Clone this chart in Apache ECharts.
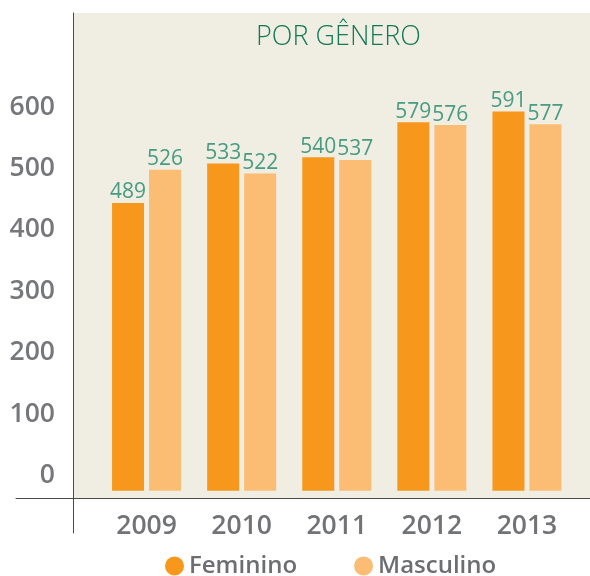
<!DOCTYPE html>
<html>
<head>
<meta charset="utf-8">
<script src="https://cdn.jsdelivr.net/npm/echarts@6/dist/echarts.min.js"></script>
<style>html,body{margin:0;padding:0;background:#fff;}#c{width:590px;height:576px;}</style>
</head>
<body>
<div id="c"></div>
<script>
const years = ['2009', '2010', '2011', '2012', '2013'];
const feminino = [489, 533, 540, 579, 591];
const masculino = [526, 522, 537, 576, 577];
const tickMin = 0, tickMax = 600, tickStep = 100;
const title = 'POR GÊNERO';
const seriesNames = ['Feminino', 'Masculino'];

const chart = echarts.init(document.getElementById('c'), null, {renderer: 'canvas'});
const labelStyle = {
  show: true, position: 'top', distance: 0,
  fontFamily: 'Open Sans', fontWeight: 500, fontSize: 21, color: '#479c82'
};
chart.setOption({
  animation: false,
  backgroundColor: '#ffffff',
  title: {
    text: title, left: 251, top: 19,
    textStyle: {fontFamily: 'Open Sans', fontWeight: 300, fontSize: 27, color: '#127a56'}
  },
  legend: {
    data: seriesNames, icon: 'circle', itemWidth: 19, itemHeight: 19, itemGap: 57,
    left: 160, top: 549,
    textStyle: {fontFamily: 'Open Sans', fontWeight: 600, fontSize: 24, color: '#6d6e71'}
  },
  grid: [
    {left: 73, right: 0, top: 13, bottom: 78, show: true, backgroundColor: '#F0EDE3', borderWidth: 0},
    {left: 16, right: 0, top: 13, bottom: 78},
    {left: 73, width: 10, top: 13, bottom: 43},
    {left: 99, right: 15.5, top: 13, bottom: 85.3},
    {left: 73, right: 0, top: 107, bottom: 100.5}
  ],
  xAxis: [
    {gridIndex: 0, type: 'value', show: false},
    {gridIndex: 1, type: 'value', axisLine: {show: true, lineStyle: {color: '#4a4a4a', width: 1}},
     axisLabel: {show: false}, axisTick: {show: false}, splitLine: {show: false}},
    {gridIndex: 2, type: 'value', show: false},
    {gridIndex: 3, type: 'category', data: years,
     axisLine: {show: false}, axisTick: {show: false},
     axisLabel: {margin: 22, fontFamily: 'Open Sans', fontWeight: 600, fontSize: 26.5, color: '#727376'}},
    {gridIndex: 4, type: 'value', show: false}
  ],
  yAxis: [
    {gridIndex: 0, type: 'value', show: false},
    {gridIndex: 1, type: 'value', show: false},
    {gridIndex: 2, type: 'value', axisLine: {show: true, lineStyle: {color: '#4a4a4a', width: 1}},
     axisLabel: {show: false}, axisTick: {show: false}, splitLine: {show: false}},
    {gridIndex: 3, type: 'value', min: 168, max: 701, show: false},
    {gridIndex: 4, type: 'value', min: tickMin, max: tickMax, interval: tickStep,
     axisLine: {show: false}, axisTick: {show: false}, splitLine: {show: false},
     axisLabel: {margin: 18, fontFamily: 'Open Sans', fontWeight: 600, fontSize: 26.5, color: '#76777a'}}
  ],
  series: [
    {name: seriesNames[0], type: 'bar', xAxisIndex: 3, yAxisIndex: 3, data: feminino,
     barWidth: 32, barGap: '15.6%', itemStyle: {color: '#F7981D'}, label: labelStyle},
    {name: seriesNames[1], type: 'bar', xAxisIndex: 3, yAxisIndex: 3, data: masculino,
     barWidth: 32, barGap: '15.6%', itemStyle: {color: '#FBBC74'}, label: labelStyle}
  ]
});
</script>
</body>
</html>
